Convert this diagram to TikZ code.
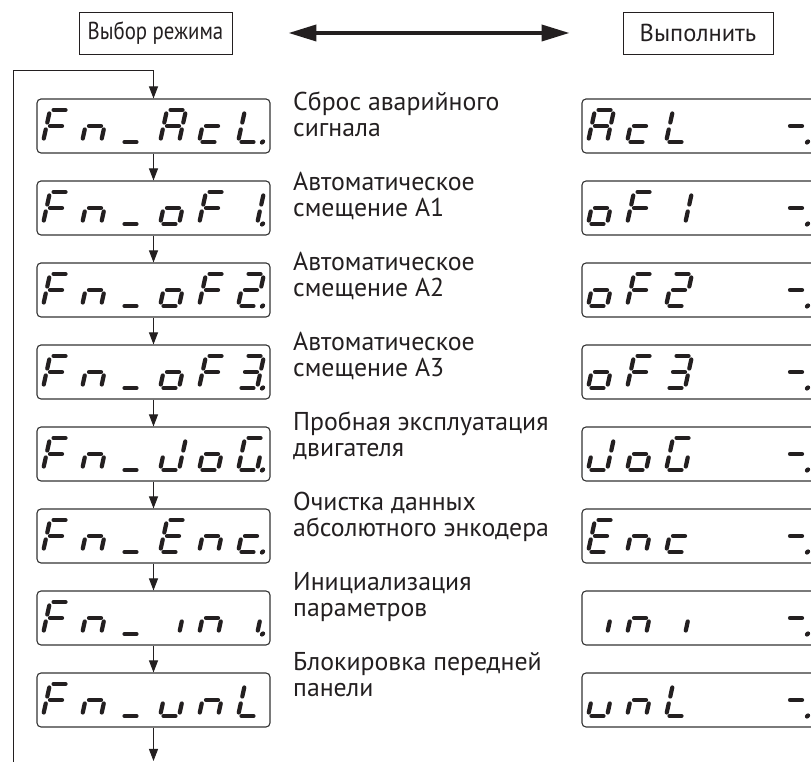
\documentclass[tikz,border=0pt]{standalone}
\usepackage{fontspec}
\setmainfont{PT Sans}
\newfontfamily\narrowfont[FakeStretch=0.85]{PT Sans}
\usetikzlibrary{arrows.meta}
\definecolor{inkdark}{HTML}{231f20}
\definecolor{framegray}{HTML}{333333}

% segment lists of the seven-segment glyphs
\newcommand{\ssF}{a,e,f,g}
\newcommand{\ssn}{c,e,g}
\newcommand{\ssbar}{d}
\newcommand{\ssA}{a,b,c,e,f,g}
\newcommand{\ssc}{d,e,g}
\newcommand{\ssL}{d,e,f}
\newcommand{\sso}{c,d,e,g}
\newcommand{\ssone}{b,c}
\newcommand{\sstwo}{a,b,d,e,g}
\newcommand{\ssthree}{a,b,c,d,g}
\newcommand{\ssJ}{b,c,d,e}
\newcommand{\ssG}{a,c,d,e,f}
\newcommand{\ssE}{a,d,e,f,g}
\newcommand{\ssi}{c}
\newcommand{\ssu}{c,d,e}
\newcommand{\ssdash}{g}

\makeatletter
% one cell: x, baseline y, segments (p = dot)
\newcommand{\segcell}[3]{%
  \begin{scope}[shift={(#1,#2)},xslant=0.22]
    \foreach \s/\ua/\va/\ub/\vb in {a/3.5/32/15.5/32,b/19/28.5/19/19.5,c/19/12.5/19/3.5,
        d/3.5/0/15.5/0,e/0/12.5/0/3.5,f/0/28.5/0/19.5,g/3.5/16/15.5/16}{%
      \edef\segtest{\noexpand\in@{\s}{#3}}\segtest
      \ifin@ \draw[seg] (\ua,\va) -- (\ub,\vb); \fi}
    \edef\segtest{\noexpand\in@{p}{#3}}\segtest
    \ifin@ \fill[inkdark] (24.5,0) circle[radius=2.6]; \fi
  \end{scope}}
\makeatother
% a row of six cells
\newcommand{\segline}[3]{%
  \foreach \g [count=\k from 0] in {#3}{\segcell{#1+39*\k}{#2}{\g}}}

\begin{document}
\begin{tikzpicture}[x=1pt,y=1pt,
  seg/.style={inkdark,line width=4.2pt,line cap=round},
  lcd/.style={draw=framegray,line width=1.1pt,rounded corners=4pt,
    minimum width=233pt,minimum height=54pt,inner sep=0pt},
  modebox/.style={draw=inkdark,line width=0.9pt,minimum height=42pt,inner sep=0pt,
    text=inkdark,font=\fontsize{24.5}{24.5}\selectfont},
  desc/.style={anchor=base west,align=left,inner sep=0pt,text=inkdark,
    font=\fontsize{25.8}{26.6}\selectfont},
  flow/.style={inkdark,line width=0.9pt,-{Triangle[length=12pt,width=9pt]}},
  biarrow/.style={inkdark,line width=3.8pt,
    {Triangle[length=28pt,width=16pt]}-{Triangle[length=28pt,width=16pt]}}]
  \path[use as bounding box,clip] (0,0) rectangle (811,762);

  % headers
  \node[modebox,minimum width=153pt] (mode) at (155.5,729) {\narrowfont Выбор режима};
  \node[modebox,minimum width=150pt] (run) at (698,729) {Выполнить};
  \draw[biarrow,shorten <=56pt,shorten >=53pt] (mode) -- (run);

  % display frames
  \foreach \i in {0,...,7}{
    \node[lcd] (f\i) at (153.5,636-82*\i) {};
    \node[lcd] (r\i) at (698.5,636-82*\i) {};
  }
  \foreach \i [count=\j from 1] in {0,...,6}
    \draw[flow] (f\i) -- (f\j);

  % loop back
  \coordinate (loopbot) at (13,0);
  \coordinate (looptop) at (13,692);
  \coordinate (flowend) at (153.5,1);
  \draw[flow] (loopbot) -- (looptop) -| (f0.north);
  \draw[flow] (f7) -- (flowend);

  % mode selection
  \segline{43}{620}{\ssF,\ssn,\ssbar,\ssA,\ssc,{\ssL,p}}
  \segline{43}{538}{\ssF,\ssn,\ssbar,\sso,\ssF,{\ssone,p}}
  \segline{43}{456}{\ssF,\ssn,\ssbar,\sso,\ssF,{\sstwo,p}}
  \segline{43}{374}{\ssF,\ssn,\ssbar,\sso,\ssF,{\ssthree,p}}
  \segline{43}{292}{\ssF,\ssn,\ssbar,\ssJ,\sso,{\ssG,p}}
  \segline{43}{210}{\ssF,\ssn,\ssbar,\ssE,\ssn,{\ssc,p}}
  \segline{43}{128}{\ssF,\ssn,\ssbar,\ssi,\ssn,{\ssi,p}}
  \segline{43}{46}{\ssF,\ssn,\ssbar,\ssu,\ssn,\ssL}

  % execute
  \segline{588}{620}{\ssA,\ssc,\ssL,{},{},{\ssdash,p}}
  \segline{588}{538}{\sso,\ssF,\ssone,{},{},{\ssdash,p}}
  \segline{588}{456}{\sso,\ssF,\sstwo,{},{},{\ssdash,p}}
  \segline{588}{374}{\sso,\ssF,\ssthree,{},{},{\ssdash,p}}
  \segline{588}{292}{\ssJ,\sso,\ssG,{},{},{\ssdash,p}}
  \segline{588}{210}{\ssE,\ssn,\ssc,{},{},{\ssdash,p}}
  \segline{588}{128}{\ssi,\ssn,\ssi,{},{},{\ssdash,p}}
  \segline{588}{46}{\ssu,\ssn,\ssL,{},{},{\ssdash,p}}

  % descriptions
  \node[desc] (d0) at (293,625) {Сброс аварийного\\сигнала};
  \node[desc] (d1) at (293,545) {Автоматическое\\смещение A1};
  \node[desc] (d2) at (293,465) {Автоматическое\\смещение A2};
  \node[desc] (d3) at (293,385) {Автоматическое\\смещение A3};
  \node[desc] (d4) at (293,305) {Пробная эксплуатация\\двигателя};
  \node[desc] (d5) at (293,225) {Очистка данных\\абсолютного энкодера};
  \node[desc] (d6) at (293,145) {Инициализация\\параметров};
  \node[desc] (d7) at (293,65) {Блокировка передней\\панели};
\end{tikzpicture}
\end{document}
